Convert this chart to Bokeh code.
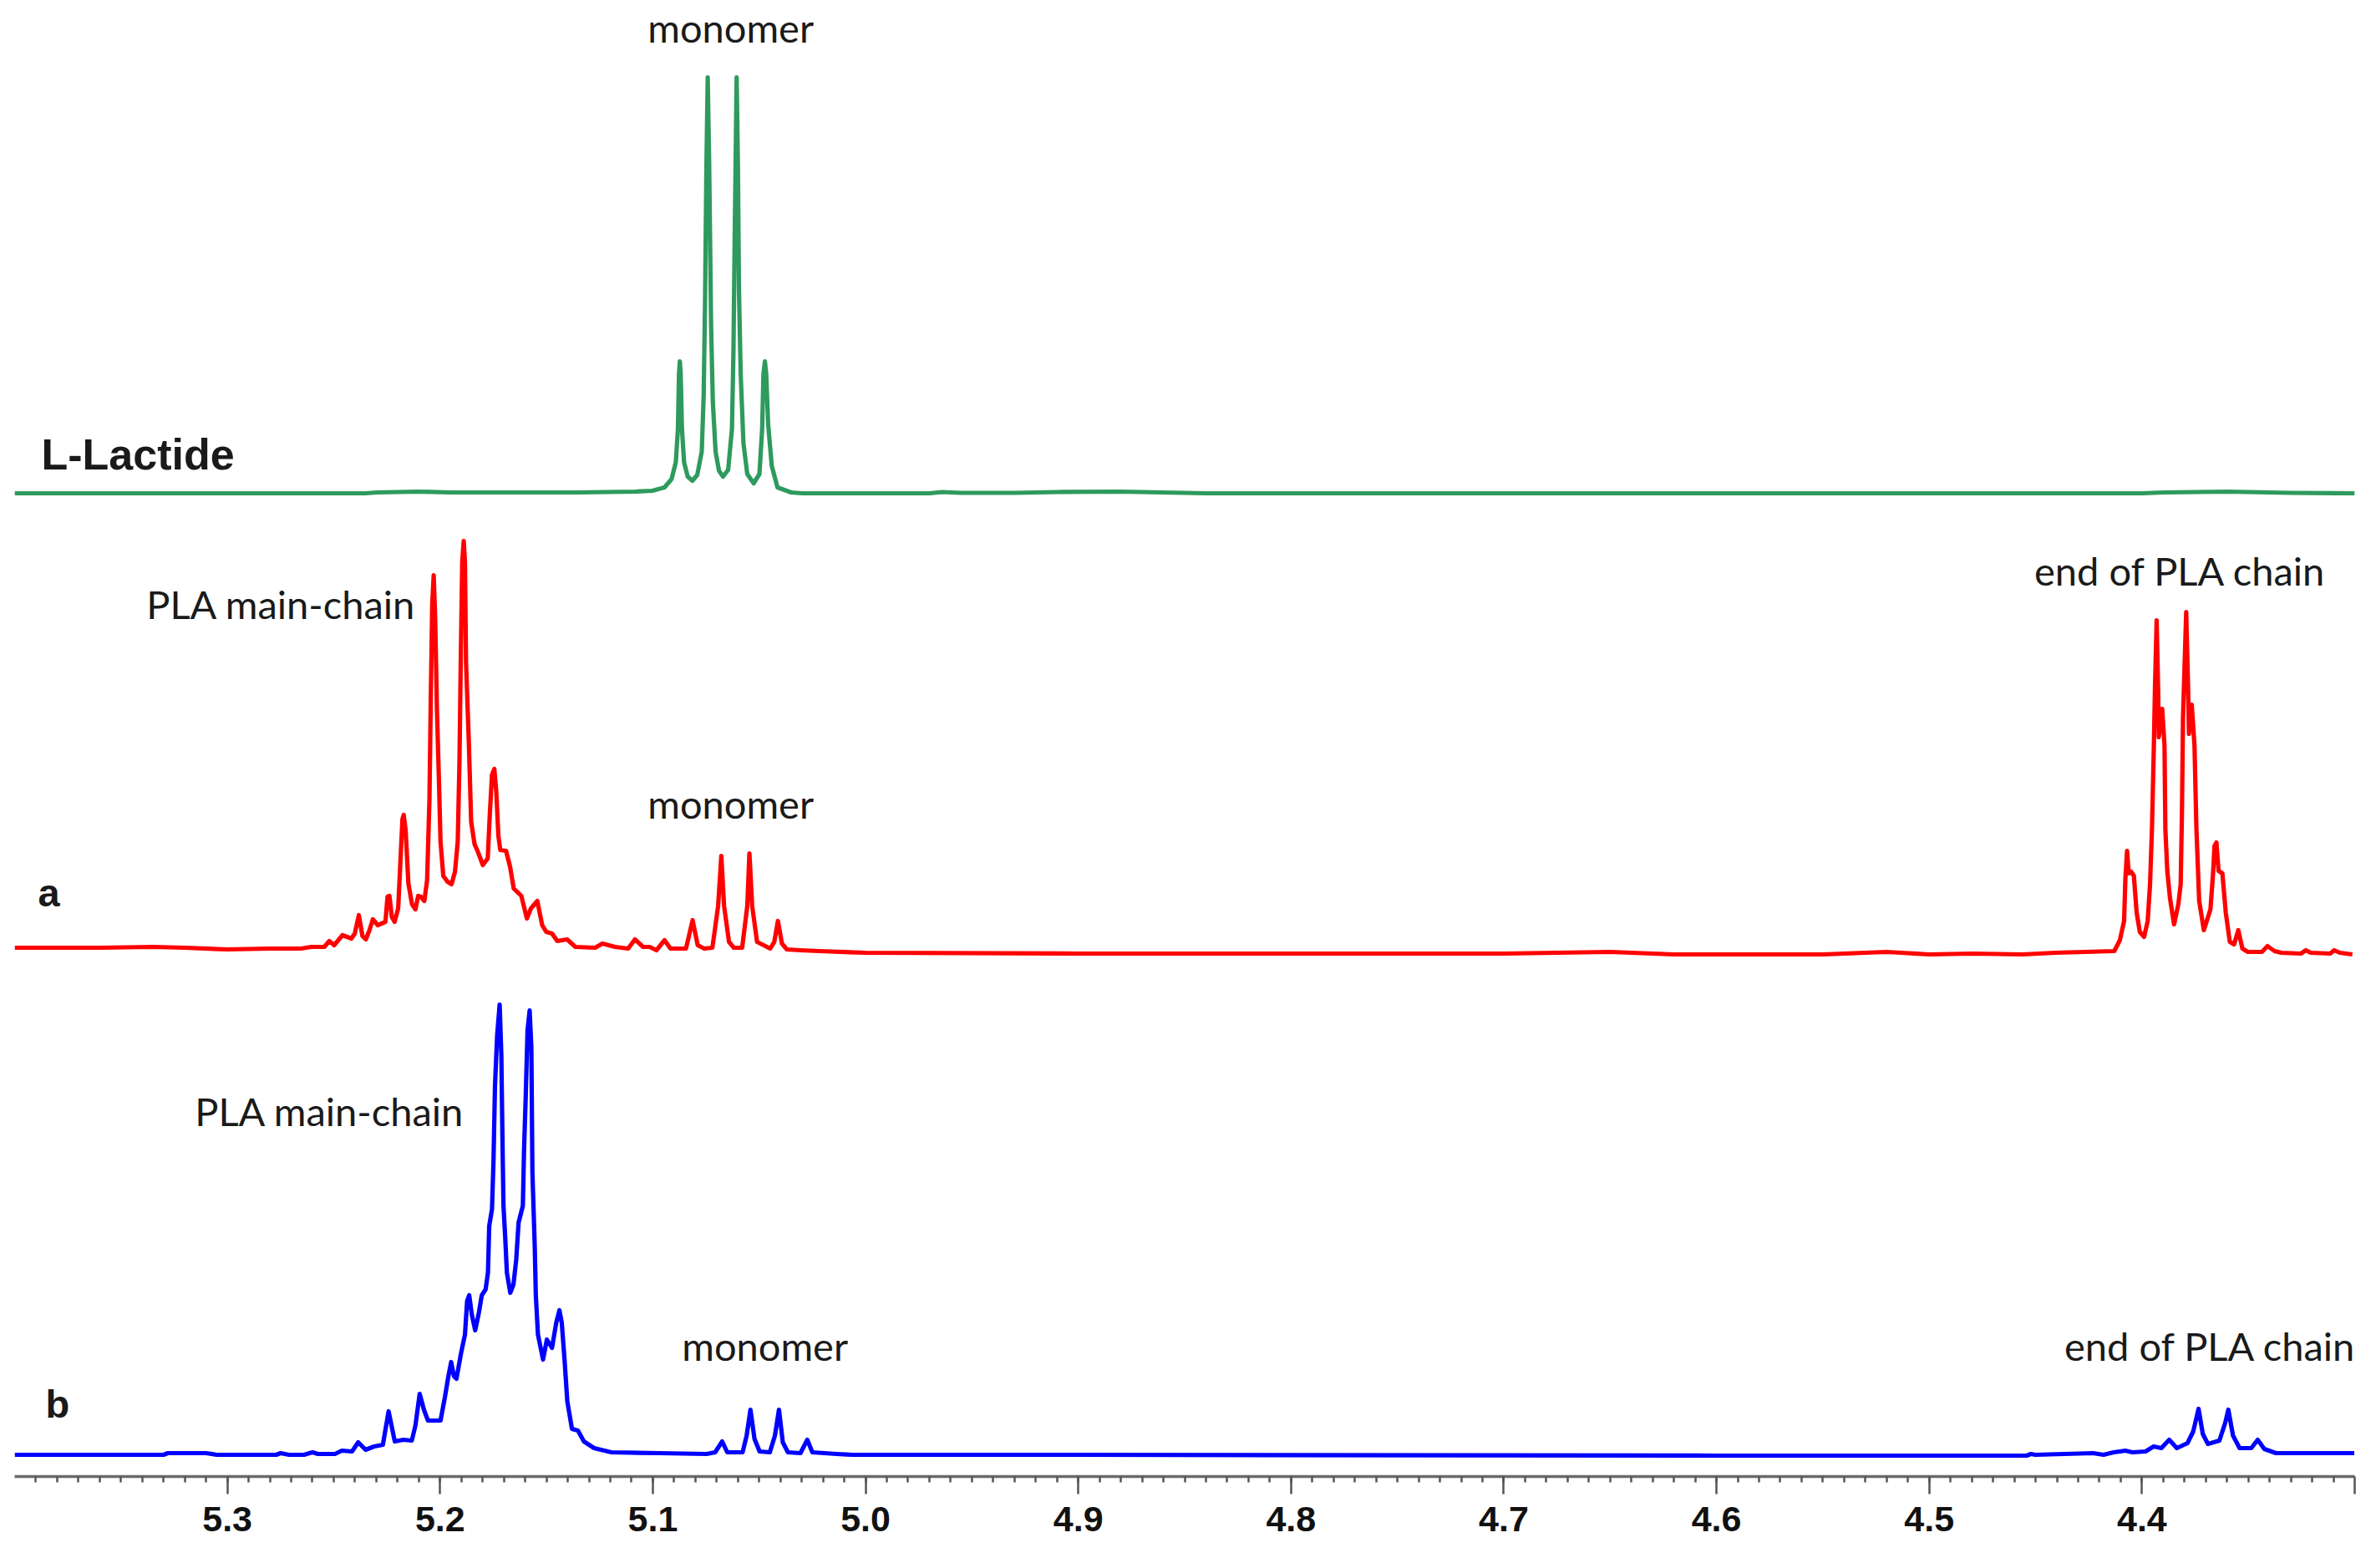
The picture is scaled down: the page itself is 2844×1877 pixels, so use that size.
from bokeh.plotting import figure
from bokeh.models import Range1d, FixedTicker, Label
from bokeh.embed import file_html
from bokeh.resources import INLINE

TICK_VALUES = [5.3, 5.2, 5.1, 5.0, 4.9, 4.8, 4.7, 4.6, 4.5, 4.4, 4.3]
TICK_LABELS = ["5.3", "5.2", "5.1", "5.0", "4.9", "4.8", "4.7", "4.6", "4.5", "4.4", ""]

green_ppm = [5.4, 5.235, 5.23, 5.21, 5.195, 5.16, 5.136, 5.1082, 5.1003, 5.0945, 5.0912, 5.0892, 5.0882, 5.0877, 5.0873, 5.0869, 5.0863, 5.0853, 5.0836, 5.0814, 5.0791, 5.077, 5.0761, 5.0755, 5.0748, 5.0742, 5.0735, 5.0726, 5.0718, 5.0705, 5.0689, 5.067, 5.0646, 5.0628, 5.0621, 5.0615, 5.0611, 5.0606, 5.06, 5.0595, 5.0587, 5.0574, 5.0556, 5.0526, 5.0499, 5.0486, 5.048, 5.0473, 5.0467, 5.0458, 5.0441, 5.0414, 5.0349, 5.0297, 4.97, 4.964, 4.955, 4.93, 4.91, 4.88, 4.86, 4.84, 4.4, 4.39, 4.36, 4.33, 4.3]
green_int = [0, 0, 1, 2, 1, 1, 1, 2, 3, 7, 17, 37, 77, 143, 158, 143, 77, 37, 20, 15, 22, 50, 117, 220, 393, 498, 393, 200, 110, 50, 27, 20, 28, 77, 170, 310, 393, 498, 393, 243, 143, 60, 23, 12, 23, 77, 143, 158, 143, 83, 33, 7, 1, 0, 0, 1.5, 0.5, 0.5, 1.5, 2, 1, 0, 0, 1, 2, 0.5, 0]

red_ppm = [5.4, 5.36, 5.335, 5.32, 5.3, 5.28, 5.2653, 5.2606, 5.2544, 5.2521, 5.2498, 5.2459, 5.2417, 5.2401, 5.2382, 5.2365, 5.2349, 5.2332, 5.2316, 5.2293, 5.2257, 5.2247, 5.2238, 5.2227, 5.2214, 5.2197, 5.2185, 5.2177, 5.2171, 5.2162, 5.2149, 5.2132, 5.2116, 5.2103, 5.209, 5.2074, 5.2061, 5.205, 5.2044, 5.2037, 5.203, 5.2023, 5.2015, 5.2005, 5.1998, 5.1985, 5.1965, 5.1946, 5.193, 5.1917, 5.1909, 5.1903, 5.1896, 5.1889, 5.1883, 5.1878, 5.1865, 5.1854, 5.1838, 5.1821, 5.1799, 5.1776, 5.1766, 5.1756, 5.1745, 5.1736, 5.1726, 5.1717, 5.169, 5.1671, 5.1654, 5.1618, 5.1592, 5.1573, 5.1543, 5.152, 5.1501, 5.1474, 5.1449, 5.1403, 5.1364, 5.1271, 5.1237, 5.1178, 5.1116, 5.1084, 5.1046, 5.1015, 5.0983, 5.0945, 5.0917, 5.0844, 5.0813, 5.0789, 5.0758, 5.072, 5.0693, 5.0678, 5.0665, 5.0642, 5.0619, 5.058, 5.0556, 5.0546, 5.0533, 5.051, 5.0448, 5.0429, 5.0412, 5.0393, 5.037, 5.0308, 5.0218, 5.0, 4.9, 4.7, 4.65, 4.62, 4.55, 4.52, 4.5, 4.48, 4.4562, 4.4405, 4.413, 4.4104, 4.4084, 4.4078, 4.407, 4.4062, 4.4051, 4.4038, 4.4025, 4.401, 4.399, 4.3973, 4.3962, 4.3953, 4.3944, 4.3939, 4.3931, 4.3924, 4.3921, 4.3905, 4.3894, 4.389, 4.3881, 4.3868, 4.3849, 4.3829, 4.3818, 4.3812, 4.3807, 4.3792, 4.3783, 4.3779, 4.3766, 4.3753, 4.3744, 4.3731, 4.3709, 4.3678, 4.3665, 4.3659, 4.365, 4.364, 4.3622, 4.3606, 4.3587, 4.3567, 4.3547, 4.3528, 4.3502, 4.3436, 4.341, 4.3377, 4.3345, 4.3253, 4.3229, 4.3207, 4.3115, 4.3096, 4.307, 4.3011]
red_int = [2, 2, 3, 2, 0, 1, 1, 3, 3, 10, 5, 17, 13, 19, 41, 16, 12, 23, 36, 29, 33, 63, 64, 39, 33, 49, 113, 156, 161, 143, 79, 54, 48, 64, 63, 58, 83, 179, 296, 413, 448, 396, 289, 199, 129, 88, 81, 78, 93, 129, 223, 343, 463, 489, 463, 343, 249, 153, 126, 116, 101, 109, 163, 209, 216, 189, 136, 119, 118, 99, 73, 64, 37, 49, 58, 29, 21, 19, 10, 12, 3, 2, 7, 3, 1, 12, 3, 3, -1, 11, 1, 1, 35, 5, 1, 2, 52, 112, 52, 9, 2, 2, 52, 115, 52, 9, 1, 9, 34, 7, 0, -1, -2, -4, -5, -5, -3, -6, -6, -3, -6, -5, -6, -4, -2, 11, 34, 84, 118, 91, 93, 88, 44, 21, 15, 34, 78, 144, 244, 311, 394, 311, 254, 288, 244, 144, 94, 61, 30, 54, 78, 164, 278, 404, 311, 258, 293, 244, 144, 58, 23, 48, 94, 124, 128, 94, 91, 44, 9, 6, 23, 1, -3, -3, 4, -2, -4, -5, -1, -4, -5, -1, -4, -6]

blue_ppm = [5.4, 5.33, 5.328, 5.31, 5.305, 5.277, 5.275, 5.271, 5.264, 5.26, 5.2574, 5.2494, 5.2462, 5.2414, 5.2385, 5.235, 5.231, 5.2269, 5.2242, 5.2213, 5.2173, 5.2133, 5.2116, 5.2096, 5.2076, 5.2057, 5.1998, 5.1978, 5.1961, 5.1948, 5.1935, 5.1923, 5.1902, 5.1883, 5.1873, 5.1863, 5.1851, 5.1835, 5.1817, 5.1804, 5.1786, 5.1775, 5.1769, 5.1756, 5.1749, 5.1742, 5.1732, 5.172, 5.1712, 5.1707, 5.1702, 5.1694, 5.1686, 5.167, 5.1655, 5.1642, 5.1631, 5.1611, 5.1605, 5.1598, 5.1589, 5.1579, 5.1571, 5.1566, 5.1555, 5.155, 5.154, 5.1516, 5.1498, 5.1474, 5.1454, 5.1439, 5.1428, 5.1415, 5.1402, 5.138, 5.1352, 5.1324, 5.1276, 5.1195, 5.0971, 5.0747, 5.0707, 5.0674, 5.065, 5.0578, 5.0559, 5.0541, 5.0522, 5.0498, 5.045, 5.0426, 5.0407, 5.0389, 5.0365, 5.0306, 5.0274, 5.025, 5.0137, 5.006, 4.9, 4.6, 4.5033, 4.4542, 4.4522, 4.4501, 4.4229, 4.4181, 4.4133, 4.4079, 4.4045, 4.3983, 4.3945, 4.3909, 4.3872, 4.3836, 4.3786, 4.3759, 4.3734, 4.3714, 4.369, 4.3636, 4.3609, 4.3594, 4.3572, 4.3541, 4.3486, 4.3456, 4.3425, 4.337, 4.3002]
blue_int = [0, 0, 2, 2, 0, 0, 2, 0, 0, 3, 1, 1, 5, 4, 15, 6, 10, 12, 52, 16, 18, 17, 35, 73, 54, 41, 41, 68, 94, 111, 94, 91, 121, 144, 184, 191, 168, 149, 171, 191, 198, 218, 274, 294, 351, 441, 501, 539, 478, 381, 298, 261, 218, 194, 204, 234, 278, 298, 368, 424, 508, 532, 488, 338, 249, 191, 144, 114, 138, 128, 158, 173, 158, 114, 64, 31, 29, 16, 8, 3, 2, 1, 3, 16, 3, 3, 23, 54, 19, 4, 3, 23, 54, 15, 3, 2, 18, 3, 1, 0, 0, -1, -1, -1, 1, 0, 2, 0, 3, 5, 3, 4, 10, 8, 18, 8, 14, 28, 55, 25, 13, 17, 38, 54, 23, 8, 8, 18, 7, 2, 2]

GREEN_BASE, RED_BASE, BLUE_BASE = 1177, 631, 26

W, H = 2828, 1861
AXIS_Y = 1767
p = figure(width=W, height=H, output_backend="svg", toolbar_location=None,
           x_range=Range1d(5.4, 4.3), y_range=Range1d(0, AXIS_Y),
           min_border_left=17, min_border_right=10, min_border_top=0, min_border_bottom=H - AXIS_Y,
           y_axis_location=None, outline_line_color=None, background_fill_color="white")
p.grid.visible = False
ax = p.xaxis[0]
ax.ticker = FixedTicker(ticks=TICK_VALUES, minor_ticks=[round(4.3 + i * 0.01, 2) for i in range(1, 110)])
ax.major_label_overrides = dict(zip(TICK_VALUES, TICK_LABELS))
ax.axis_line_color = "#6a6a6a"
ax.axis_line_width = 3.5
ax.major_tick_line_color = "#555555"
ax.major_tick_line_width = 2.5
ax.minor_tick_line_color = "#555555"
ax.minor_tick_line_width = 2.5
ax.major_tick_in = 0
ax.minor_tick_in = 0
ax.major_tick_out = 21
ax.minor_tick_out = 7
ax.major_label_standoff = 15
ax.major_label_text_font = "Liberation Sans"
ax.major_label_text_font_style = "bold"
ax.major_label_text_font_size = "43px"
ax.major_label_text_color = "#111111"

for xs, ys, base, col in [(green_ppm, green_int, GREEN_BASE, "#2E9A5E"),
                          (red_ppm, red_int, RED_BASE, "#FF0000"),
                          (blue_ppm, blue_int, BLUE_BASE, "#0000FF")]:
    p.line(xs, [base + v for v in ys], line_color=col, line_width=5.2, line_join="round")

def lab(text, xpx, ypx, font="Lato", size="47px", style="normal", align="center", baseline="middle"):
    p.add_layout(Label(x=5.4 - (xpx - 17) / 2546, y=AXIS_Y - ypx, text=text,
                       text_font=font, text_font_size=size, text_font_style=style,
                       text_align=align, text_baseline=baseline, text_color="#1a1a1a"))

lab("monomer", 874, 32)
lab("PLA main-chain", 336, 722)
lab("monomer", 874, 961)
lab("end of PLA chain", 2609, 682)
lab("PLA main-chain", 394, 1329)
lab("monomer", 915, 1610)
lab("end of PLA chain", 2645, 1610)
lab("L-Lactide", 49, 543, "Liberation Sans", "52px", "bold", "left")
lab("a", 45, 1068, "Liberation Sans", "47px", "bold", "left")
lab("b", 54, 1680, "Liberation Sans", "47px", "bold", "left")
lab("ppm", 2818, 1835, "Liberation Sans", "43px", "bold", "right", "alphabetic")

open("out.html", "w").write(file_html(p, INLINE))
